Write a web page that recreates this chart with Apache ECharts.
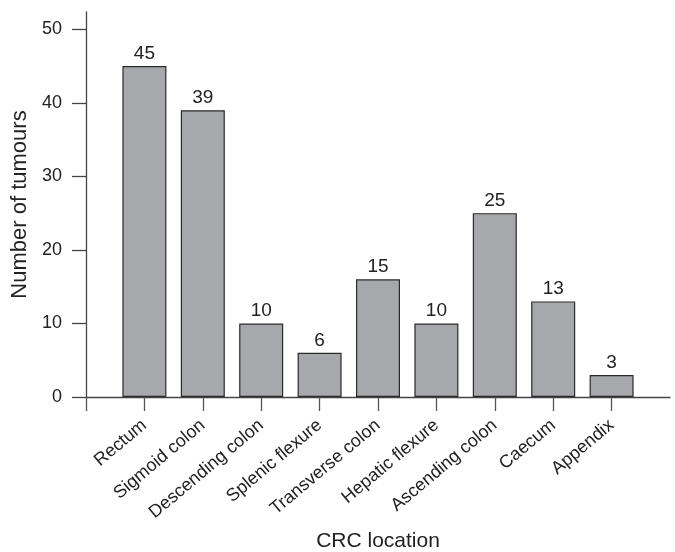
<!DOCTYPE html>
<html>
<head>
<meta charset="utf-8">
<script src="https://cdn.jsdelivr.net/npm/echarts@6/dist/echarts.min.js"></script>
<style>html,body{margin:0;padding:0;background:#fff;}#c{width:675px;height:552px;}</style>
</head>
<body>
<div id="c"></div>
<script>
var categories = ['', 'Rectum', 'Sigmoid colon', 'Descending colon', 'Splenic flexure', 'Transverse colon', 'Hepatic flexure', 'Ascending colon', 'Caecum', 'Appendix', ''];
var barValues = [null, 45, 39, 10, 6, 16, 10, 25, 13, 3, null];
var barLabels = ['', '45', '39', '10', '6', '15', '10', '25', '13', '3', ''];
var yTicks = [0, 10, 20, 30, 40, 50];

var FONT = '"Liberation Sans", Arial, Helvetica, sans-serif';
var lastIdx = categories.length - 1;
var chart = echarts.init(document.getElementById('c'));
chart.setOption({
  animation: false,
  grid: { left: 86, right: 5, top: 12, bottom: 155, containLabel: false, outerBoundsMode: 'none' },
  xAxis: {
    type: 'category',
    data: categories,
    boundaryGap: false,
    name: 'CRC location',
    nameLocation: 'middle',
    nameGap: 134,
    nameTextStyle: { fontFamily: FONT, fontSize: 21, color: '#222' },
    axisLine: { lineStyle: { color: '#444', width: 1.3 } },
    axisTick: { show: true, length: 14, interval: function (idx) { return idx !== lastIdx; }, lineStyle: { color: '#555', width: 1.3 } },
    axisLabel: { rotate: 40, interval: 0, margin: 26, fontFamily: FONT, fontSize: 18, color: '#222' },
    splitLine: { show: false }
  },
  yAxis: {
    type: 'value',
    min: 0,
    max: 52.35,
    interval: 10,
    name: 'Number of tumours',
    nameLocation: 'middle',
    nameGap: 42,
    nameRotate: 90,
    nameTextStyle: { fontFamily: FONT, fontSize: 22, color: '#222' },
    axisLine: { show: true, lineStyle: { color: '#444', width: 1.3 } },
    axisTick: { show: true, inside: false, length: 14, customValues: yTicks, lineStyle: { color: '#444', width: 1.3 } },
    axisLabel: { customValues: yTicks, margin: 24, fontFamily: FONT, fontSize: 18, color: '#222' },
    splitLine: { show: false }
  },
  series: [{
    type: 'bar',
    data: barValues,
    barWidth: 44,
    itemStyle: { color: '#a7a8ab', borderColor: '#2a2a2a', borderWidth: 1.2 },
    label: {
      show: true,
      position: 'top',
      distance: 3,
      fontFamily: FONT,
      fontSize: 19,
      color: '#222',
      formatter: function (p) { return barLabels[p.dataIndex]; }
    }
  }]
});
</script>
</body>
</html>
